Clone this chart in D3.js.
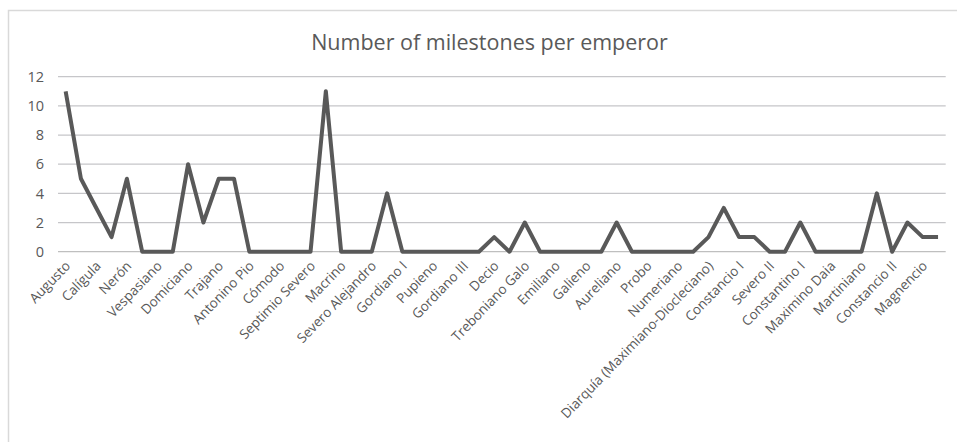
<!DOCTYPE html>
<html>
<head>
<meta charset="utf-8">
<script src="https://cdn.jsdelivr.net/npm/d3@7"></script>
<style>
  body { margin: 0; background: #fff; }
  text { font-family: "Open Sans", sans-serif; fill: #595959; }
</style>
</head>
<body>
<script>
// emperors in order; only every other name shows on the axis
const emperors = [
    "Augusto", "Tiberio", "Calígula", "Claudio", "Nerón", "Galba", "Vespasiano", "Tito",
    "Domiciano", "Nerva", "Trajano", "Adriano", "Antonino Pio", "Marco Aurelio", "Cómodo", "Pertinax",
    "Septimio Severo", "Caracalla", "Macrino", "Heliogábalo", "Severo Alejandro", "Maximino", "Gordiano I", "Gordiano II",
    "Pupieno", "Balbino", "Gordiano III", "Filipo", "Decio", "Hostiliano", "Treboniano Galo", "Volusiano",
    "Emiliano", "Valeriano", "Galieno", "Claudio II", "Aureliano", "Tácito", "Probo", "Caro",
    "Numeriano", "Carino", "Diarquía (Maximiano-Diocleciano)", "Tetrarquía", "Constancio I", "Galerio", "Severo II", "Majencio",
    "Constantino I", "Licinio", "Maximino Daia", "Crispo", "Martiniano", "Constantino II", "Constancio II", "Constante",
    "Magnencio", "Decencio"
];
const milestones = [
    11, 5, 3, 1, 5, 0, 0, 0,
    6, 2, 5, 5, 0, 0, 0, 0,
    0, 11, 0, 0, 0, 4, 0, 0,
    0, 0, 0, 0, 1, 0, 2, 0,
    0, 0, 0, 0, 2, 0, 0, 0,
    0, 0, 1, 3, 1, 1, 0, 0,
    2, 0, 0, 0, 0, 4, 0, 2,
    1, 1
];
const yTicks = [0, 2, 4, 6, 8, 10, 12];
const title = "Number of milestones per emperor";

const width = 957, height = 442;
const margin = {left: 58, right: 11.3, top: 76.7, bottom: 190.3};

const data = emperors.map((name, i) => ({name: name, value: milestones[i]}));

const svg = d3.select("body").append("svg")
    .attr("width", width)
    .attr("height", height);

// chart area border
svg.append("rect")
    .attr("x", 8.5).attr("y", 10.5)
    .attr("width", width).attr("height", height)
    .attr("fill", "none")
    .attr("stroke", "#d9d9d9")
    .attr("stroke-width", 1.5);

const x = d3.scalePoint()
    .domain(emperors)
    .range([margin.left, width - margin.right])
    .padding(0.5);

const y = d3.scaleLinear()
    .domain([0, 12])
    .range([height - margin.bottom, margin.top]);

svg.append("text")
    .attr("x", 489.5)
    .attr("y", 50)
    .attr("text-anchor", "middle")
    .attr("font-size", 21.5)
    .text(title);

// gridlines
svg.selectAll(".grid")
    .data(yTicks)
    .join("line")
    .attr("class", "grid")
    .attr("x1", margin.left)
    .attr("x2", width - margin.right)
    .attr("y1", d => y(d))
    .attr("y2", d => y(d))
    .attr("stroke", d => d === 0 ? "#bfbfbf" : "#c6c6c9")
    .attr("stroke-width", 1.3);

const yAxis = svg.append("g")
    .attr("transform", `translate(${margin.left},0)`)
    .call(d3.axisLeft(y).tickValues(yTicks).tickSize(0).tickPadding(14));
yAxis.select(".domain").remove();
yAxis.selectAll("text")
    .attr("font-size", 14.5)
    .attr("font-family", null)
    .attr("fill", null);

const xAxis = svg.append("g")
    .attr("transform", `translate(0,${y(0)})`)
    .call(d3.axisBottom(x).tickValues(emperors.filter((_, i) => i % 2 === 0)).tickSize(0));
xAxis.select(".domain").remove();
xAxis.selectAll("text")
    .attr("font-size", 13.5)
    .attr("font-family", null)
    .attr("fill", null)
    .attr("text-anchor", "end")
    .attr("dy", null)
    .attr("y", 0)
    .attr("transform", "translate(5,15) rotate(-46)");

const line = d3.line()
    .x(d => x(d.name))
    .y(d => y(d.value));

svg.append("path")
    .datum(data)
    .attr("d", line)
    .attr("fill", "none")
    .attr("stroke", "#595959")
    .attr("stroke-width", 4)
    .attr("stroke-linejoin", "round");
</script>
</body>
</html>
